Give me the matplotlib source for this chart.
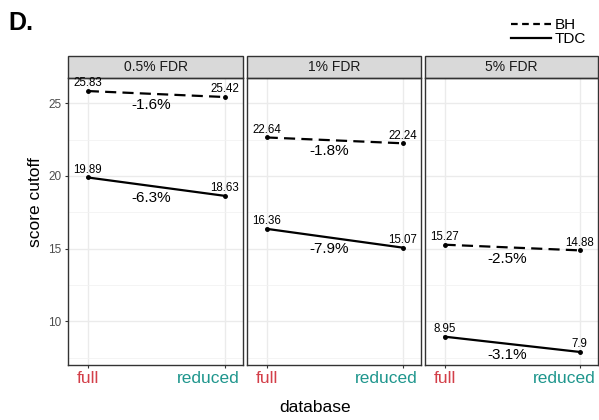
import matplotlib
matplotlib.use("Agg")
import matplotlib.pyplot as plt
from matplotlib.lines import Line2D
from matplotlib.patches import Rectangle
from matplotlib.transforms import ScaledTranslation

plt.rcParams['font.family'] = ['Liberation Sans', 'DejaVu Sans']
NARROW = ['Liberation Sans Narrow', 'Liberation Sans', 'DejaVu Sans']

# ---- data ----
panels = ["0.5% FDR", "1% FDR", "5% FDR"]
databases = ["full", "reduced"]
bh_full = [25.83, 22.64, 15.27]
bh_reduced = [25.42, 22.24, 14.88]
tdc_full = [19.89, 16.36, 8.95]
tdc_reduced = [18.63, 15.07, 7.9]
bh_pct = ["-1.6%", "-1.8%", "-2.5%"]
tdc_pct = ["-6.3%", "-7.9%", "-3.1%"]
methods = ["BH", "TDC"]
yticks = [10, 15, 20, 25]

# ---- layout ----
W, H = 599, 420
fig = plt.figure(figsize=(W / 100, H / 100), dpi=100)
def fx(px): return px / W
def fy(py): return 1 - py / H

panel_x = [(68, 243), (247, 421), (425, 598)]
top_px, bot_px = 78, 365
strip_px = 22
red, teal = '#D33F49', '#1F968D'

allv = bh_full + bh_reduced + tdc_full + tdc_reduced
lo, hi = min(allv), max(allv)
rng = hi - lo
ylim = (lo - 0.05 * rng, hi + 0.05 * rng)

axes = []
for i, (x0, x1) in enumerate(panel_x):
    ax = fig.add_axes([fx(x0), fy(bot_px), (x1 - x0) / W, (bot_px - top_px) / H])
    axes.append(ax)
    ax.set_xlim(-0.145, 1.135)
    ax.set_ylim(*ylim)
    ax.set_axisbelow(True)
    ax.set_yticks(yticks)
    ax.set_yticks([7.5, 12.5, 17.5, 22.5], minor=True)
    ax.set_xticks([0, 1])
    ax.grid(which='major', color='#EBEBEB', lw=1.0)
    ax.grid(which='minor', color='#F2F2F2', lw=0.6)
    ax.tick_params(which='minor', length=0)
    for s in ax.spines.values():
        s.set_color('#333333')
        s.set_linewidth(1.0)
    ax.tick_params(axis='both', which='major', length=2.5, width=0.8,
                   color='#333333', pad=2)
    if i == 0:
        ax.set_yticklabels([str(t) for t in yticks], color='#4D4D4D',
                           fontsize=8.5, family=NARROW)
    else:
        ax.tick_params(axis='y', left=False, labelleft=False)
    labs = ax.set_xticklabels(databases, fontsize=12.5)
    labs[0].set_color(red)
    labs[1].set_color(teal)
    labs[1].set_transform(labs[1].get_transform() +
                          ScaledTranslation(-16 / 100, 0, fig.dpi_scale_trans))

    # lines
    for full, red_v, pct, ls in [(bh_full[i], bh_reduced[i], bh_pct[i], (0, (5, 2.8))),
                                 (tdc_full[i], tdc_reduced[i], tdc_pct[i], '-')]:
        ax.plot([0, 1], [full, red_v], color='black', lw=1.6, linestyle=ls,
                marker='o', markersize=2.5)
        for xv, yv in [(0, full), (1, red_v)]:
            ax.annotate(str(yv), (xv, yv), xytext=(0, 1.2), textcoords='offset points',
                        ha='center', va='bottom', fontsize=8.3, family=NARROW)
        ax.annotate(pct, (0.46, (full + red_v) / 2), xytext=(0, -8),
                    textcoords='offset points', ha='center', va='center', fontsize=11)

    # strip
    sh = strip_px / (bot_px - top_px)
    ax.add_patch(Rectangle((0, 1), 1, sh, transform=ax.transAxes, clip_on=False,
                           facecolor='#D9D9D9', edgecolor='#333333', lw=1.0))
    ax.text(0.5, 1 + sh / 2, panels[i], transform=ax.transAxes, ha='center',
            va='center', fontsize=10, family=NARROW, color='#1A1A1A')

fig.text(fx(36), fy(202), 'score cutoff', rotation=90, ha='center', va='center',
         fontsize=12.5)
fig.text(fx(315), fy(408), 'database', ha='center', va='center', fontsize=12.5)
fig.text(fx(8), fy(11), 'D.', ha='left', va='top', fontsize=18, weight='bold')

handles = [Line2D([], [], color='black', lw=1.6, linestyle=(0, (3, 2))),
           Line2D([], [], color='black', lw=1.6, linestyle='-')]
fig.legend(handles, methods, loc='upper left', bbox_to_anchor=(fx(511), fy(18)),
           frameon=False, fontsize=11, handlelength=2.65, handletextpad=0.2,
           labelspacing=0.03, borderpad=0, borderaxespad=0)

fig.savefig('out.png', dpi=100)
